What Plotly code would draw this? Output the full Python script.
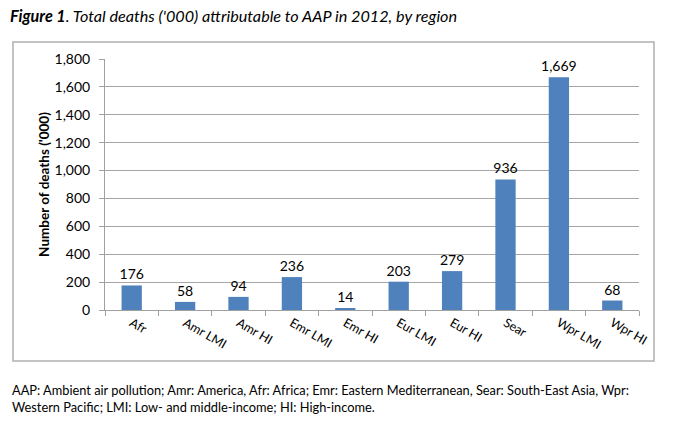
import plotly.graph_objects as go

regions = ["Afr", "Amr LMI", "Amr HI", "Emr LMI", "Emr HI", "Eur LMI", "Eur HI", "Sear", "Wpr LMI", "Wpr HI"]
deaths = [176, 58, 94, 236, 14, 203, 279, 936, 1669, 68]
y_ticks = [0, 200, 400, 600, 800, 1000, 1200, 1400, 1600, 1800]

FONT = "Lato, 'Open Sans', sans-serif"
W, H = 693, 427
L, R, T, B = 105, 54, 59, 117
pw, ph = W - L - R, H - T - B

def px(x):
    return (x - L) / pw

def py(y):
    return (H - B - y) / ph

fig = go.Figure(go.Bar(
    x=regions, y=deaths,
    marker=dict(color="#4F81BD", line=dict(width=0)),
    width=0.38,
    text=[f"{v:,}" for v in deaths], textposition="outside",
    textfont=dict(family=FONT, size=14, color="#000"),
    constraintext="none",
    cliponaxis=False,
))

fig.update_layout(
    width=W, height=H,
    margin=dict(l=L, r=R, t=T, b=B),
    paper_bgcolor="white", plot_bgcolor="white",
    showlegend=False,
    font=dict(family=FONT, color="#000"),
    xaxis=dict(
        type="category", tickson="boundaries", ticks="outside", ticklen=5,
        tickcolor="#A0A0A0", showline=True, linecolor="#A0A0A0", linewidth=1,
        tickangle=30, tickfont=dict(size=12.5, family=FONT), showgrid=False,
    ),
    yaxis=dict(
        range=[0, 1800], tickvals=y_ticks, ticktext=[f"{v:,}" for v in y_ticks],
        tickfont=dict(size=14, family=FONT), ticks="outside", ticklen=5,
        ticklabelstandoff=6,
        tickcolor="#A0A0A0", showline=True, linecolor="#A0A0A0", linewidth=1,
        showgrid=True, gridcolor="#A6A6A6", gridwidth=1, zeroline=False,
        title=dict(text="<b>Number of deaths ('000)</b>", font=dict(size=13.5, family=FONT), standoff=1),
    ),
    shapes=[dict(type="rect", xref="paper", yref="paper",
                 x0=px(13), x1=px(654), y0=py(361), y1=py(42),
                 line=dict(color="#B0B0B0", width=1.5), fillcolor="rgba(0,0,0,0)", layer="below")],
    annotations=[
        dict(text="<b><i>Figure 1</i></b><i>. Total deaths ('000) attributable to AAP in 2012, by region</i>",
             xref="paper", yref="paper", x=px(8), y=py(16), xanchor="left", yanchor="middle",
             showarrow=False, font=dict(size=16.2, family=FONT)),
        dict(text="AAP: Ambient air pollution; Amr: America, Afr: Africa; Emr: Eastern Mediterranean, Sear: South-East Asia, Wpr:<br>Western Pacific; LMI: Low- and middle-income; HI: High-income.",
             xref="paper", yref="paper", x=px(10), y=py(398), xanchor="left", yanchor="middle", align="left",
             showarrow=False, font=dict(size=12.8, family=FONT)),
    ],
)

fig.write_html("out.html", config={"displayModeBar": False},
               post_script="document.body.style.margin='0';")
